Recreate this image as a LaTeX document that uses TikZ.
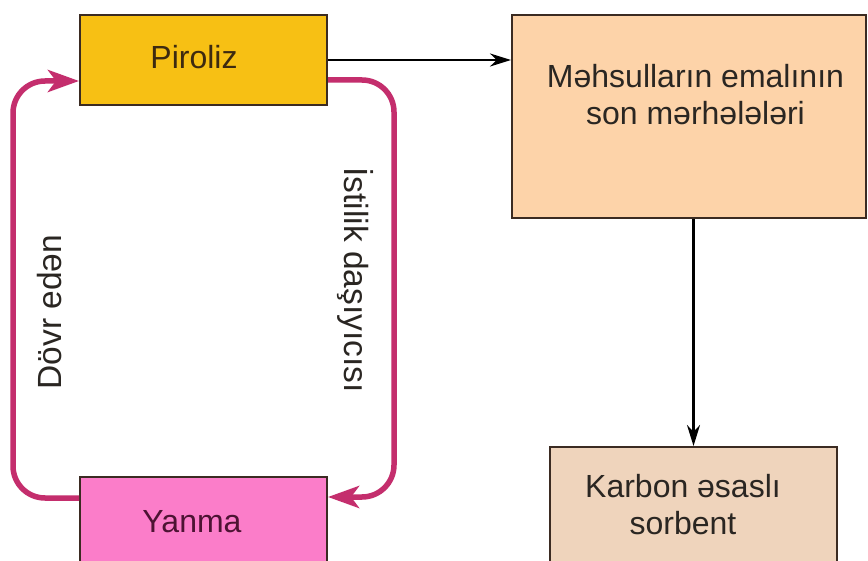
\documentclass[tikz,border=0pt]{standalone}
\usepackage{fontspec}
\setmainfont{Liberation Sans}
\usetikzlibrary{arrows.meta}

\definecolor{pirfill}{HTML}{F7C014}
\definecolor{emalfill}{HTML}{FDD3A9}
\definecolor{karbfill}{HTML}{EFD4BC}
\definecolor{yanfill}{HTML}{FB7DC9}
\definecolor{edge}{HTML}{3B2B22}
\definecolor{loopcol}{HTML}{C42E6D}
\definecolor{pirtext}{HTML}{3D2A10}
\definecolor{yantext}{HTML}{4D1333}
\definecolor{bodytext}{HTML}{2A2622}

\tikzset{
  box/.style={draw=edge, line width=2pt, inner sep=0pt},
  txt/.style={inner sep=0pt, align=center, text=bodytext,
    font=\fontsize{32}{37}\selectfont},
  sidelabel/.style={inner sep=0pt, text=bodytext,
    font=\fontsize{33.5}{40}\selectfont},
  flow/.style={line width=2.6pt, draw=black,
    -{Stealth[length=21pt, width=13pt]}},
  cycle/.style={line width=5.5pt, draw=loopcol, rounded corners=32pt,
    -{Stealth[length=31pt, width=22pt, inset=8pt]}}
}

\begin{document}
\begin{tikzpicture}[x=1pt, y=-1pt]
  \useasboundingbox (0,0) rectangle (868,561);
  \clip (0,0) rectangle (868,561);
  \fill[white] (0,0) rectangle (868,561);

  % process boxes
  \node[box, fill=pirfill, minimum width=247pt, minimum height=90pt] (piroliz) at (203.5,60) {};
  \node[box, fill=yanfill, minimum width=247pt, minimum height=92pt] (yanma) at (203.5,523) {};
  \node[box, fill=emalfill, minimum width=354pt, minimum height=203pt] (emal) at (689,116.5) {};
  \node[box, fill=karbfill, minimum width=287pt, minimum height=116pt] (karbon) at (693.5,505) {};

  % box texts
  \node[txt, text=pirtext, anchor=base] (pirolizt) at (194,69) {Piroliz};
  \node[txt, text=yantext, anchor=base] (yanmat) at (192,532) {Yanma};
  \node[txt, anchor=north] (emalt) at (695.5,64) {Məhsulların emalının\\son mərhələləri};
  \node[txt, anchor=north] (karbont) at (683,474) {Karbon əsaslı\\sorbent};

  % product flow
  \draw[flow] (piroliz.east) -- (piroliz.east -| emal.west);
  \draw[flow] (emal.south -| karbon.north) -- (karbon.north);

  % circulating heat carrier loop
  \draw[cycle] ([yshift=25pt]yanma.west) -- ++(-66pt,0) |- ([yshift=-21pt]piroliz.west);
  \draw[cycle] ([yshift=-20pt]piroliz.east) -- ++(66pt,0) |- ([yshift=26pt]yanma.east);

  % loop labels
  \node[sidelabel, rotate=90] (dovr) at (50,312) {Dövr edən};
  \node[sidelabel, rotate=-90] (istilik) at (355,280) {İstilik daşıyıcısı};
\end{tikzpicture}
\end{document}
